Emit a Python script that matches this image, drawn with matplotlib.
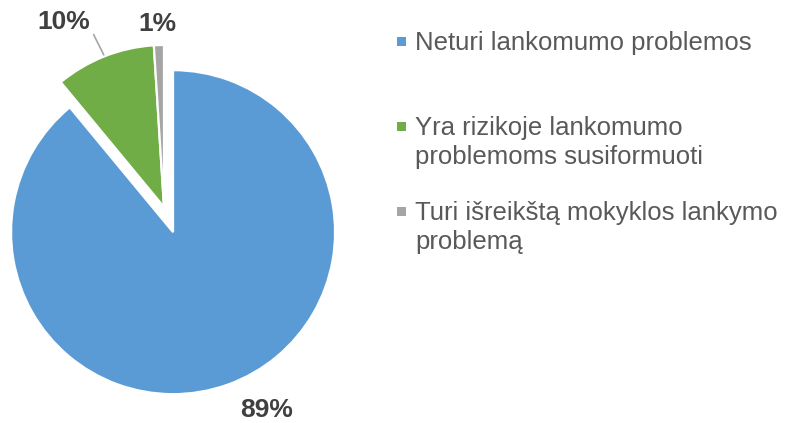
import matplotlib
matplotlib.use("Agg")
import numpy as np
import matplotlib.pyplot as plt
from matplotlib.patches import Rectangle

plt.rcParams['font.family'] = ['Liberation Sans', 'DejaVu Sans']

# data
categories = ["Neturi lankomumo problemos",
              "Yra rizikoje lankomumo\nproblemoms susiformuoti",
              "Turi išreikštą mokyklos lankymo\nproblemą"]
shares = [89, 10, 1]
pct_labels = ["89%", "10%", "1%"]

colors = ['#5B9BD5', '#70AD47', '#A5A5A5']
explode = [0.165, 0.0, 0.0]

W, H = 793, 423
fig = plt.figure(figsize=(W / 100, H / 100), dpi=100)

# pie axes: whole figure, 1 data unit = scale px, pie centre at (cx, cy) px
scale = 162.0
cx, cy = 164.0, 207.0
ax = fig.add_axes([0, 0, 1, 1])
wedges, _ = ax.pie(shares, colors=colors, explode=explode, startangle=90,
                   counterclock=False, radius=1.0,
                   wedgeprops=dict(edgecolor='white', linewidth=1.6))
ax.set_xlim(-cx / scale, (W - cx) / scale)
ax.set_ylim(-(H - cy) / scale, cy / scale)
ax.set_aspect('equal')
ax.axis('off')

# percentage labels (radial distance, angle nudge in degrees)
label_dist = [1.24, 1.30, 1.13]
label_nudge = [7.8, 6.8, 0.4]
for i, w in enumerate(wedges):
    mid = np.deg2rad((w.theta1 + w.theta2) / 2)
    ang = mid + np.deg2rad(label_nudge[i])
    x0, y0 = w.center
    tx = x0 + label_dist[i] * np.cos(ang)
    ty = y0 + label_dist[i] * np.sin(ang)
    if i == 1:
        # leader line to the green slice
        ax.annotate(pct_labels[i], xy=(x0 + 1.01 * np.cos(mid), y0 + 1.01 * np.sin(mid)),
                    xytext=(tx, ty), ha='center', va='center',
                    fontsize=19, fontweight='bold', color='#404040',
                    arrowprops=dict(arrowstyle='-', color='#A6A6A6', lw=1.2,
                                    relpos=(1.0, 0.25), shrinkA=1, shrinkB=0))
    else:
        ax.text(tx, ty, pct_labels[i], ha='center', va='center',
                fontsize=19, fontweight='bold', color='#404040')

# legend drawn in pixel coordinates
ov = fig.add_axes([0, 0, 1, 1])
ov.set_xlim(0, W)
ov.set_ylim(H, 0)
ov.axis('off')
leg_x, leg_y0, leg_step, line_step = 415, 50, 85, 29
for i, lab in enumerate(categories):
    by = leg_y0 + i * leg_step
    ov.add_patch(Rectangle((397, by - 12.5), 8.5, 8.5, facecolor=colors[i], edgecolor='none'))
    for j, line in enumerate(lab.split('\n')):
        ov.text(leg_x, by + j * line_step, line, ha='left', va='baseline',
                fontsize=18.5, color='#595959')

fig.savefig('out.png', dpi=100)
